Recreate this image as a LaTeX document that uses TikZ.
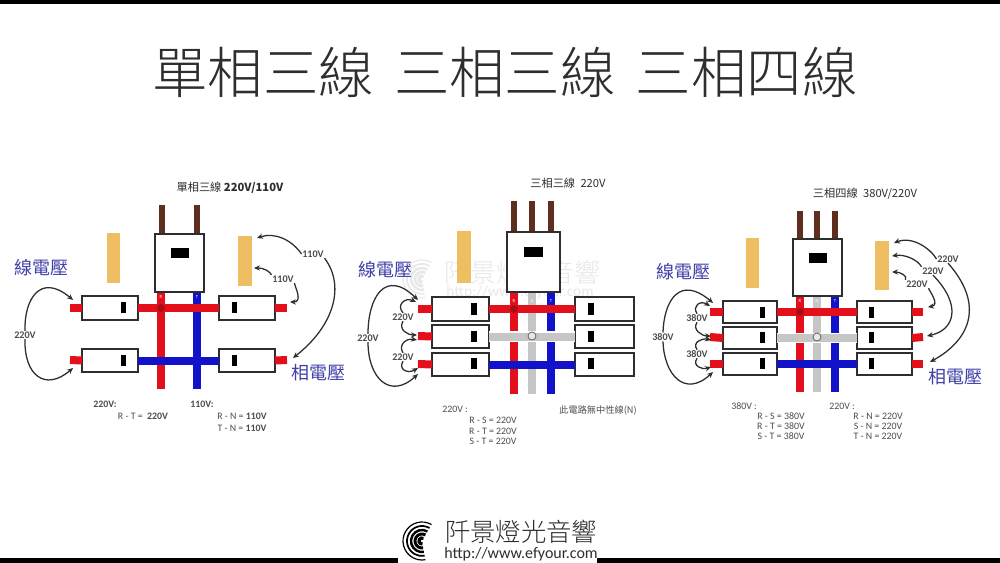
\documentclass[tikz,border=0pt]{standalone}
\usepackage{fontspec}
\usetikzlibrary{arrows.meta}
\setmainfont{Carlito}
\newfontfamily\cjk{Noto Sans CJK TC}
\newfontfamily\cjklight{Noto Sans CJK TC Light}
\definecolor{busred}{HTML}{E3101C}
\definecolor{busblue}{HTML}{1212C8}
\definecolor{busgray}{HTML}{C6C6C6}
\definecolor{stubbrown}{HTML}{5E2F1F}
\definecolor{amber}{HTML}{F0BE62}
\definecolor{ink}{HTML}{2E2E2E}
\definecolor{vblue}{HTML}{4040A8}
\definecolor{wm}{HTML}{E8E8E8}
\tikzset{
  px/.style={x=0.75pt,y=-0.75pt},
  box/.style={draw=ink,line width=1.1pt,fill=white,inner sep=0pt,outer sep=0pt},
  slot/.style={fill=black,inner sep=0pt,outer sep=0pt},
  feeder/.style={stubbrown,line width=5.2pt},
  rbus/.style={busred,line width=6pt},
  bbus/.style={busblue,line width=6pt},
  gbus/.style={busgray,line width=6pt},
  halo/.style={white,line width=8pt},
  amberbar/.style={fill=amber,inner sep=0pt,outer sep=0pt},
  arr/.style={ink,line width=0.95pt,-{Stealth[length=4.5pt,width=4pt]}},
  volt/.style={font=\fontsize{7.6pt}{8pt}\selectfont\bfseries,text=ink!85,inner sep=0.4pt},
  small/.style={font=\fontsize{7.4pt}{8pt}\selectfont,text=ink!85,inner sep=0pt},
  ptitle/.style={font=\fontsize{8.4pt}{9pt}\cjk,text=ink,inner sep=0pt},
  bluelab/.style={font=\fontsize{13.5pt}{14pt}\cjk,text=vblue,inner sep=0pt},
  tag/.style={font=\fontsize{3.5pt}{4pt}\selectfont,text=white,inner sep=0pt},
  neutral/.style={circle,draw=ink!75,fill=busgray!40,line width=0.6pt,minimum size=6pt,inner sep=0pt},
  junction/.style={circle,fill=busred!75!black,minimum size=6pt,inner sep=0pt},
}
\newcommand{\rectnode}[6]{% style,name,x1,y1,x2,y2
  \node[#1,minimum width={(#5-#3)*0.75pt},minimum height={(#6-#4)*0.75pt}] (#2) at ({(#3+#5)/2},{(#4+#6)/2}) {};}
\newcommand{\logoarcs}[3]{% cx, cy, colour
  \foreach \r/\w in {3/2.4,7/2.2,11/1.8,15/1.3,19/0.9}{
    \draw[#3,line width=\w pt] (#1,#2) ++({\r*cos(-60)},{\r*sin(-60)}) arc[start angle=-60,end angle=-280,radius=\r];
  }}
\begin{document}
\begin{tikzpicture}[px]
\useasboundingbox (0,0) rectangle (1000,563);
\fill[white] (0,0) rectangle (1000,563);
% frame bars
\fill[black] (0,0) rectangle (1000,4);
\fill[black] (0,558) rectangle (398,563);
\fill[black] (597,558) rectangle (1000,563);
% title
\node[font=\fontsize{41.6pt}{44pt}\cjklight,text=ink,inner sep=0pt] (title) at (505,72) {單相三線\hspace{15pt}三相三線\hspace{15pt}三相四線};
% watermark
\logoarcs{422}{279}{wm}
\node[font=\fontsize{19.5pt}{22pt}\cjklight,text=wm,inner sep=0pt] (wmark) at (522,272) {阡景燈光音響};
\node[font=\fontsize{11.5pt}{12pt}\selectfont,text=wm,inner sep=0pt] (wmurl) at (520,292) {http://www.efyour.com};
% ---------- panel 1 ----------
\node[ptitle] (t1) at (230,188) {單相三線 \textbf{220V/110V}};
\rectnode{amberbar}{o1a}{107}{233}{120}{283}
\rectnode{amberbar}{o1b}{238}{236}{252}{286}
\coordinate (f1a) at (162,205); \coordinate (f1b) at (197,205);
\coordinate (v1a) at (161,389); \coordinate (v1b) at (197,389);
\coordinate (s1a) at (161,292); \coordinate (s1b) at (197,292);
\draw[feeder] (f1a) -- (162,234);
\draw[feeder] (f1b) -- (197,234);
\draw[rbus] (s1a) -- (v1a);
\draw[bbus] (s1b) -- (v1b);
\rectnode{box}{b1}{155}{234}{204}{292}
\rectnode{slot}{b1s}{171}{248}{189}{258}
\rectnode{box}{l1a}{82}{296}{138}{320}
\rectnode{box}{l1b}{82}{349}{138}{372}
\rectnode{box}{r1a}{219}{296}{275}{320}
\rectnode{box}{r1b}{219}{349}{275}{372}
\draw[rbus] (l1a.east) -- (r1a.west);
\draw[bbus] (l1b.east) -- (r1b.west);
\node[junction] (j1) at (161,308) {};
\coordinate (e1a) at (70,308); \coordinate (e1b) at (70,360);
\coordinate (e1c) at (287,308); \coordinate (e1d) at (287,360);
\draw[rbus] (e1a) -- (l1a.west);
\draw[rbus] (e1b) -- (l1b.west);
\draw[rbus] (r1a.east) -- (e1c);
\draw[rbus] (r1b.east) -- (e1d);
\rectnode{slot}{x1a}{120.5}{302}{126}{313}
\rectnode{slot}{x1b}{120.5}{355}{126}{366}
\rectnode{slot}{x1c}{232}{302}{237}{313}
\rectnode{slot}{x1d}{232}{355}{237}{366}
\node[tag] (g1a) at (161,297) {R};
\node[tag] (g1b) at (197,297) {T};
\node[bluelab] (w1) at (41,268) {線電壓};
\node[bluelab] (p1) at (318,373) {相電壓};
\node[volt] (a1) at (25,335) {220V};
\node[volt] (a2) at (313,254) {110V};
\node[volt] (a3) at (283,279) {110V};
\coordinate (k1) at (73,300); \coordinate (k2) at (73,368);
\coordinate (k3) at (257,238); \coordinate (k4) at (293,358);
\coordinate (k5) at (254,268); \coordinate (k6) at (290,302);
\draw[arr] (a1.north) .. controls (24,300) and (40,272) .. (k1);
\draw[arr] (a1.south) .. controls (24,375) and (45,392) .. (k2);
\draw[arr] (a2.west) .. controls (292,240) and (275,232) .. (k3);
\draw[arr] (a2.south east) .. controls (345,285) and (335,325) .. (k4);
\draw[arr] (a3.north west) .. controls (270,272) and (265,268) .. (k5);
\draw[arr] (a3.south east) .. controls (295,287) and (303,302) .. (k6);
\node[small] (n1a) at (105,404) {\bfseries 220V:};
\node[small] (n1b) at (143,416) {R - T =\ \ \textbf{220V}};
\node[small] (n1c) at (202,404) {\bfseries 110V:};
\node[small] (n1d) at (242,416) {R - N = \textbf{110V}};
\node[small] (n1e) at (242,428) {T - N = \textbf{110V}};
% ---------- panel 2 ----------
\node[ptitle] (t2) at (568,183) {三相三線\hspace{4pt}220V};
\rectnode{amberbar}{o2a}{457}{231}{471}{283}
\coordinate (f2a) at (514,201); \coordinate (f2b) at (532,201); \coordinate (f2c) at (551,201);
\coordinate (s2a) at (514,292); \coordinate (s2b) at (532,292); \coordinate (s2c) at (551,292);
\coordinate (v2a) at (514,394); \coordinate (v2b) at (532,394); \coordinate (v2c) at (551,394);
\draw[feeder] (f2a) -- (514,232);
\draw[feeder] (f2b) -- (532,232);
\draw[feeder] (f2c) -- (551,232);
\draw[rbus] (s2a) -- (v2a);
\draw[gbus] (s2b) -- (v2b);
\draw[bbus] (s2c) -- (v2c);
\rectnode{box}{b2}{507}{232}{560}{292}
\rectnode{slot}{b2s}{524}{247}{543}{257}
\rectnode{box}{l2a}{432}{297}{489}{321}
\rectnode{box}{l2b}{432}{325}{489}{348}
\rectnode{box}{l2c}{432}{353}{489}{376}
\rectnode{box}{r2a}{575}{297}{634}{321}
\rectnode{box}{r2b}{575}{325}{634}{348}
\rectnode{box}{r2c}{575}{353}{634}{376}
\draw[rbus] (l2a.east) -- (r2a.west);
\draw[halo] (l2b.east) -- (r2b.west);
\draw[gbus] (l2b.east) -- (r2b.west);
\draw[bbus] (l2c.east) -- (r2c.west);
\node[junction] (j2) at (514,309) {};
\node[neutral] (n2) at (532,336) {};
\coordinate (e2a) at (418,309); \coordinate (e2b) at (418,336); \coordinate (e2c) at (418,364);
\draw[rbus] (e2a) -- (l2a.west);
\draw[rbus] (e2b) -- (l2b.west);
\draw[rbus] (e2c) -- (l2c.west);
\rectnode{slot}{x2a}{471}{303}{477}{315}
\rectnode{slot}{x2b}{471}{331}{477}{342}
\rectnode{slot}{x2c}{471}{358}{477}{369}
\rectnode{slot}{x2d}{588}{303}{594}{315}
\rectnode{slot}{x2e}{588}{331}{594}{342}
\rectnode{slot}{x2f}{588}{358}{594}{369}
\node[tag] (g2a) at (514,301) {R};
\node[tag] (g2b) at (532,301) {S};
\node[tag] (g2c) at (551,301) {T};
\node[bluelab] (w2) at (385,270) {線電壓};
\node[volt] (c1) at (368,338) {220V};
\node[volt] (c2) at (403,317) {220V};
\node[volt] (c3) at (403,357) {220V};
\coordinate (m1) at (418,300); \coordinate (m2) at (418,374);
\coordinate (m3) at (416,302); \coordinate (m4) at (417,335);
\coordinate (m5) at (417,340); \coordinate (m6) at (418,368);
\draw[arr] (c1.north) .. controls (368,298) and (385,268) .. (m1);
\draw[arr] (c1.south) .. controls (368,378) and (390,400) .. (m2);
\draw[arr] (c2.north) .. controls (396,305) and (405,297) .. (m3);
\draw[arr] (c2.south) .. controls (398,330) and (408,335) .. (m4);
\draw[arr] (c3.north) .. controls (398,345) and (406,338) .. (m5);
\draw[arr] (c3.south) .. controls (398,370) and (408,374) .. (m6);
\node[small] (n2a) at (455,409) {220V :};
\node[small] (n2b) at (493,420) {R - S = 220V};
\node[small] (n2c) at (493,431) {R - T = 220V};
\node[small] (n2d) at (493,441) {S - T = 220V};
\node[small,font=\fontsize{6.9pt}{7pt}\cjk] (n2e) at (598,411) {此電路無中性線(N)};
% ---------- panel 3 ----------
\node[ptitle] (t3) at (865,194) {三相四線\hspace{4pt}380V/220V};
\rectnode{amberbar}{o3a}{746}{238}{759}{288}
\rectnode{amberbar}{o3b}{875}{241}{889}{290}
\coordinate (f3a) at (800,211); \coordinate (f3b) at (817,211); \coordinate (f3c) at (835,211);
\coordinate (s3a) at (800,296); \coordinate (s3b) at (817,296); \coordinate (s3c) at (835,296);
\coordinate (v3a) at (800,392); \coordinate (v3b) at (817,392); \coordinate (v3c) at (835,392);
\draw[feeder] (f3a) -- (800,239);
\draw[feeder] (f3b) -- (817,239);
\draw[feeder] (f3c) -- (835,239);
\draw[rbus] (s3a) -- (v3a);
\draw[gbus] (s3b) -- (v3b);
\draw[bbus] (s3c) -- (v3c);
\rectnode{box}{b3}{793}{239}{842}{296}
\rectnode{slot}{b3s}{809}{253}{827}{263}
\rectnode{box}{l3a}{723}{301}{777}{323}
\rectnode{box}{l3b}{723}{327}{777}{349}
\rectnode{box}{l3c}{723}{353}{777}{375}
\rectnode{box}{r3a}{857}{301}{912}{323}
\rectnode{box}{r3b}{857}{327}{912}{349}
\rectnode{box}{r3c}{857}{353}{912}{375}
\draw[rbus] (l3a.east) -- (r3a.west);
\draw[halo] (l3b.east) -- (r3b.west);
\draw[gbus] (l3b.east) -- (r3b.west);
\draw[bbus] (l3c.east) -- (r3c.west);
\node[junction] (j3) at (800,312) {};
\node[neutral] (n3) at (817,337) {};
\coordinate (e3a) at (710,312); \coordinate (e3b) at (710,337); \coordinate (e3c) at (710,364);
\coordinate (e3d) at (923,312); \coordinate (e3e) at (923,337); \coordinate (e3f) at (923,364);
\draw[rbus] (e3a) -- (l3a.west);
\draw[rbus] (e3b) -- (l3b.west);
\draw[rbus] (e3c) -- (l3c.west);
\draw[rbus] (r3a.east) -- (e3d);
\draw[rbus] (r3b.east) -- (e3e);
\draw[rbus] (r3c.east) -- (e3f);
\rectnode{slot}{x3a}{760}{307}{765}{318}
\rectnode{slot}{x3b}{760}{332}{765}{343}
\rectnode{slot}{x3c}{760}{358}{765}{369}
\rectnode{slot}{x3d}{869}{307}{874}{318}
\rectnode{slot}{x3e}{869}{332}{874}{343}
\rectnode{slot}{x3f}{869}{358}{874}{369}
\node[tag] (g3a) at (800,301) {R};
\node[tag] (g3b) at (817,301) {N};
\node[tag] (g3c) at (835,301) {T};
\node[bluelab] (w3) at (683,272) {線電壓};
\node[bluelab] (p3) at (955,377) {相電壓};
\node[volt] (d1) at (663,337) {380V};
\node[volt] (d2) at (697,318) {380V};
\node[volt] (d3) at (697,354) {380V};
\node[volt] (d4) at (948,259) {220V};
\node[volt] (d5) at (933,271) {220V};
\node[volt] (d6) at (917,284) {220V};
\coordinate (q1) at (713,303); \coordinate (q2) at (713,372);
\coordinate (q3) at (710,306); \coordinate (q4) at (711,336);
\coordinate (q5) at (711,340); \coordinate (q6) at (711,367);
\coordinate (q7) at (894,243); \coordinate (q8) at (930,362);
\coordinate (q9) at (892,256); \coordinate (q10) at (927,336);
\coordinate (q11) at (892,272); \coordinate (q12) at (928,307);
\draw[arr] (d1.north) .. controls (664,300) and (680,275) .. (q1);
\draw[arr] (d1.south) .. controls (664,375) and (685,398) .. (q2);
\draw[arr] (d2.north) .. controls (692,306) and (700,300) .. (q3);
\draw[arr] (d2.south) .. controls (692,330) and (702,336) .. (q4);
\draw[arr] (d3.north) .. controls (692,342) and (702,338) .. (q5);
\draw[arr] (d3.south) .. controls (692,366) and (702,370) .. (q6);
\draw[arr] (d4.west) .. controls (930,248) and (912,236) .. (q7);
\draw[arr] (d4.south) .. controls (985,305) and (970,340) .. (q8);
\draw[arr] (d5.north west) .. controls (918,260) and (905,254) .. (q9);
\draw[arr] (d5.south) .. controls (962,305) and (955,330) .. (q10);
\draw[arr] (d6.north west) .. controls (908,276) and (900,272) .. (q11);
\draw[arr] (d6.south east) .. controls (930,292) and (940,305) .. (q12);
\node[small] (n3a) at (744,406) {380V :};
\node[small] (n3b) at (781,416) {R - S = 380V};
\node[small] (n3c) at (781,426) {R - T = 380V};
\node[small] (n3d) at (781,436) {S - T = 380V};
\node[small] (n3e) at (842,406) {220V :};
\node[small] (n3f) at (878,416) {R - N = 220V};
\node[small] (n3g) at (878,426) {S - N = 220V};
\node[small] (n3h) at (878,436) {T - N = 220V};
% footer logo
\logoarcs{422}{541}{black}
\node[font=\fontsize{19pt}{20pt}\cjklight,text=ink,inner sep=0pt] (logo) at (521,532) {阡景燈光音響};
\node[font=\fontsize{12pt}{13pt}\selectfont,text=ink,inner sep=0pt] (url) at (521,554) {http://www.efyour.com};
\end{tikzpicture}
\end{document}
